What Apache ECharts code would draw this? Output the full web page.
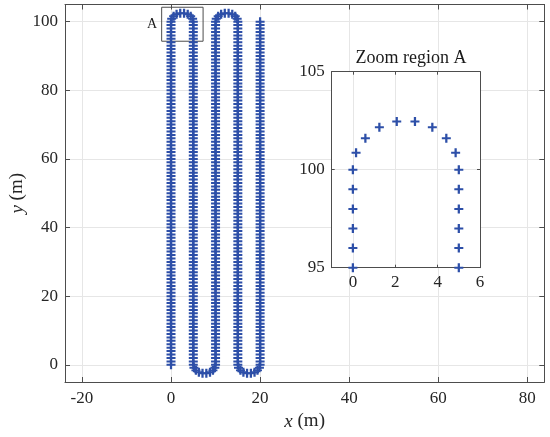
<!DOCTYPE html>
<html>
<head>
<meta charset="utf-8">
<script src="https://cdn.jsdelivr.net/npm/echarts@6/dist/echarts.min.js"></script>
<style>
  html, body { margin: 0; padding: 0; background: #fff; }
  #main { width: 550px; height: 437px; }
</style>
</head>
<body>
<div id="main"></div>
<script>
// x of each straight leg (m)
var legX = [0, 5, 10, 15, 20];
// y of the markers along a straight leg (m), bottom to top
var legY = [0, 1, 2, 3, 4, 5, 6, 7, 8, 9, 10, 11, 12, 13, 14, 15, 16, 17, 18, 19,
    20, 21, 22, 23, 24, 25, 26, 27, 28, 29, 30, 31, 32, 33, 34, 35, 36, 37, 38, 39,
    40, 41, 42, 43, 44, 45, 46, 47, 48, 49, 50, 51, 52, 53, 54, 55, 56, 57, 58, 59,
    60, 61, 62, 63, 64, 65, 66, 67, 68, 69, 70, 71, 72, 73, 74, 75, 76, 77, 78, 79,
    80, 81, 82, 83, 84, 85, 86, 87, 88, 89, 90, 91, 92, 93, 94, 95, 96, 97, 98, 99, 100];
// turn markers, x measured from the leg the turn starts at
var turnDx = [0.15, 0.59, 1.25, 2.07, 2.93, 3.75, 4.41, 4.85];
var topTurnY = [100.86, 101.61, 102.17, 102.46, 102.46, 102.17, 101.61, 100.86];
var bottomTurnY = [-0.86, -1.61, -2.17, -2.46, -2.46, -2.17, -1.61, -0.86];
// legs that a turn leaves from: top turns and bottom turns
var topTurnFrom = [0, 10];
var bottomTurnFrom = [5, 15];
// zoom box A in the main plot
var boxX = [-2.1, 7.2];
var boxY = [94.3, 104.2];

var points = [];
legX.forEach(function (x) {
    legY.forEach(function (y) { points.push([x, y]); });
});
topTurnFrom.forEach(function (x0) {
    turnDx.forEach(function (dx, i) { points.push([x0 + dx, topTurnY[i]]); });
});
bottomTurnFrom.forEach(function (x0) {
    turnDx.forEach(function (dx, i) { points.push([x0 + dx, bottomTurnY[i]]); });
});

var serif = 'Liberation Serif';
var plus = 'path://M3.75,0H6.25V3.9H10V6.1H6.25V10H3.75V6.1H0V3.9H3.75Z';
var blue = '#2d4fa8';
var frame = '#4d4d4d';
var gridCol = '#e6e6e6';

function xAx(grid, pos, opt) {
    var a = {
        type: 'value', gridIndex: grid, position: pos,
        min: opt.min, max: opt.max, splitNumber: opt.split,
        z: opt.z,
        axisLine: { show: true, onZero: false, lineStyle: { color: frame, width: 1 } },
        axisTick: { show: true, inside: true, length: opt.tick, lineStyle: { color: frame } },
        axisLabel: {
            show: pos === 'bottom' || pos === 'left', color: '#262626',
            fontFamily: serif, fontSize: 17, margin: opt.margin,
            formatter: function (v) { return v % opt.step === 0 ? String(v) : ''; }
        },
        splitLine: { show: pos === 'bottom' || pos === 'left', lineStyle: { color: gridCol } }
    };
    if (opt.interval) a.interval = opt.interval;
    return a;
}

var mainX = { min: -23.8, max: 83.8, split: 5, step: 20, tick: 5, margin: 8, z: 0 };
var mainY = { min: -5, max: 105, split: 5, step: 20, tick: 5, margin: 7, z: 0 };
var zoomX = { min: -1, max: 6, split: 3, step: 2, tick: 3, margin: 6, z: 4 };
var zoomY = { min: 95, max: 105, interval: 5, step: 5, tick: 3, margin: 7, z: 4 };

var xAxes = [
    xAx(0, 'bottom', mainX), xAx(0, 'top', mainX),
    xAx(1, 'bottom', zoomX), xAx(1, 'top', zoomX)
];
var yAxes = [
    xAx(0, 'left', mainY), xAx(0, 'right', mainY),
    xAx(1, 'left', zoomY), xAx(1, 'right', zoomY)
];
xAxes[0].name = '{i|x} (m)';
xAxes[0].nameLocation = 'middle';
xAxes[0].nameGap = 30;
xAxes[0].nameMoveOverlap = false;
xAxes[0].nameTextStyle = { fontFamily: serif, fontSize: 19, color: '#262626',
    rich: { i: { fontFamily: serif, fontSize: 19, fontStyle: 'italic', color: '#262626' } } };
yAxes[0].name = '{i|y} (m)';
yAxes[0].nameLocation = 'middle';
yAxes[0].nameGap = 38;
yAxes[0].nameMoveOverlap = false;
yAxes[0].nameTextStyle = { fontFamily: serif, fontSize: 19, color: '#262626',
    rich: { i: { fontFamily: serif, fontSize: 19, fontStyle: 'italic', color: '#262626' } } };

var myChart = echarts.init(document.getElementById('main'));
var option = {
    animation: false,
    backgroundColor: '#fff',
    title: {
        text: 'Zoom region A',
        left: 406, top: 44, textAlign: 'center',
        textStyle: { fontFamily: serif, fontSize: 18, fontWeight: 'normal', color: '#1a1a1a' }
    },
    grid: [
        { left: 65, top: 4.5, right: 5.7, bottom: 55, outerBoundsMode: 'none' },
        { left: 331.7, top: 71.7, width: 148.3, height: 196, show: true,
          outerBoundsMode: 'none', backgroundColor: '#fff', borderWidth: 0, z: 3 }
    ],
    xAxis: xAxes,
    yAxis: yAxes,
    series: [
        {
            type: 'scatter', xAxisIndex: 0, yAxisIndex: 0, z: 2,
            data: points, symbol: plus, symbolSize: 9,
            itemStyle: { color: blue, opacity: 1 },
            markArea: {
                silent: true,
                itemStyle: { color: 'rgba(0,0,0,0)', borderColor: frame, borderWidth: 1 },
                label: { show: true, position: 'left', distance: 4,
                    fontFamily: serif, fontSize: 14, color: '#1a1a1a' },
                data: [[{ name: 'A', coord: [boxX[0], boxY[1]] }, { coord: [boxX[1], boxY[0]] }]]
            }
        },
        {
            type: 'scatter', xAxisIndex: 2, yAxisIndex: 2, z: 5, clip: true,
            data: points, symbol: plus, symbolSize: 9,
            itemStyle: { color: blue, opacity: 1 }
        }
    ]
};
myChart.setOption(option);
</script>
</body>
</html>
